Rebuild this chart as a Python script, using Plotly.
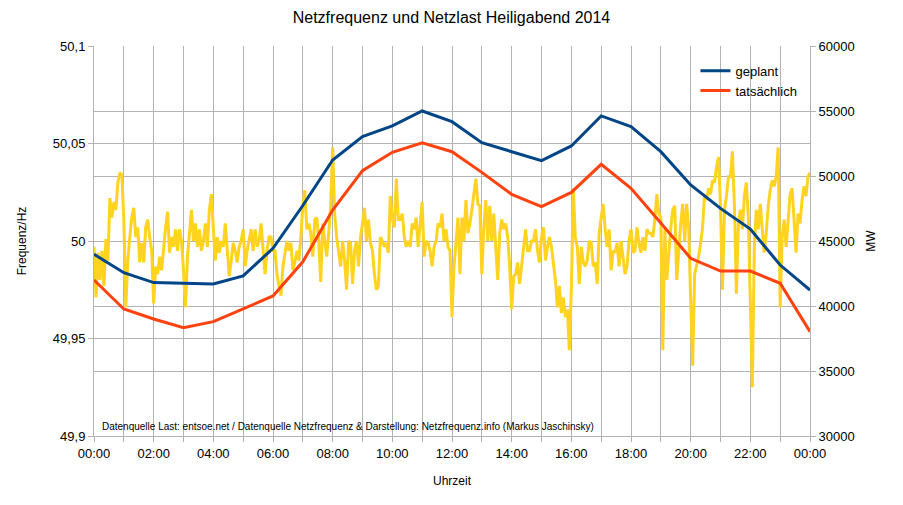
import plotly.graph_objects as go

# ---------------- data ----------------
hours = list(range(0, 25))  # 00:00 .. 24:00 (next 00:00)

geplant_mw = [43980, 42560, 41800, 41750, 41700, 42310, 44440, 47730, 51230, 53030,
              53850, 55000, 54180, 52560, 51870, 51180, 52310, 54620, 53800, 51870,
              49310, 47510, 45920, 43150, 41230]

tatsaechlich_mw = [42000, 39770, 39000, 38330, 38800, 39770, 40770, 43400, 47380, 50410,
                   51820, 52560, 51870, 50280, 48590, 47640, 48740, 50900, 49050, 46380,
                   43670, 42690, 42690, 41750, 38030]

freq_step_min = 4  # frequency samples every 4 minutes, 00:00 .. 24:00
freq_hz = [
    # 00:00 - 04:40
    49.997, 49.971, 49.994, 49.980, 49.995, 49.977, 50.001, 49.990, 50.022, 50.012,
    50.020, 50.016, 50.030, 50.035, 50.034, 50.011, 49.966, 49.990, 50.002, 50.012,
    50.017, 50.002, 50.007, 49.989, 49.999, 49.989, 50.007, 50.011, 50.002, 49.995,
    49.968, 49.987, 49.983, 49.992, 49.985, 49.997, 50.007, 50.015, 49.994, 50.002,
    49.997, 50.006, 49.995, 50.006, 50.000, 49.985, 49.966, 49.992, 50.006, 50.016,
    50.000, 50.009, 49.997, 50.006, 49.995, 50.000, 50.009, 49.997, 50.016, 50.024,
    50.007, 49.990, 50.002, 49.994, 50.000, 49.997, 50.009, 49.995, 49.982, 49.990,
    49.999,
    # 04:44 - 09:28
    49.995, 49.989, 49.997, 50.000, 50.006, 49.987, 49.995, 50.000, 50.006, 49.995,
    50.006, 49.997, 50.000, 50.009, 49.995, 49.983, 49.995, 50.002, 50.002, 49.995,
    49.995, 49.983, 49.977, 49.972, 49.987, 49.994, 50.000, 49.995, 49.999, 49.985,
    49.989, 49.995, 49.990, 50.002, 50.018, 50.026, 50.006, 50.009, 50.004, 49.992,
    50.011, 50.012, 50.000, 49.979, 50.009, 50.000, 49.992, 50.004, 50.018, 50.048,
    50.014, 50.002, 49.994, 49.987, 50.000, 49.990, 49.975, 50.000, 49.999, 49.978,
    49.995, 50.000, 49.987, 50.002, 50.009, 50.017, 50.000, 50.011, 49.999, 49.995,
    49.983, 49.975,
    # 09:32 - 14:12
    49.977, 50.002, 50.000, 49.997, 49.999, 49.994, 50.023, 50.011, 50.007, 50.032,
    50.011, 50.011, 50.014, 50.002, 49.997, 50.000, 49.997, 50.009, 50.006, 50.012,
    49.997, 50.007, 50.020, 49.992, 50.000, 49.999, 49.995, 49.987, 49.997, 50.000,
    50.009, 50.007, 50.014, 50.000, 50.006, 49.997, 49.995, 49.961, 49.987, 49.999,
    50.012, 49.983, 50.012, 50.000, 50.021, 50.004, 50.009, 50.016, 50.023, 50.032,
    50.019, 50.018, 49.983, 50.007, 50.021, 50.000, 50.018, 50.000, 50.014, 49.995,
    49.980, 50.004, 50.011, 50.006, 50.009, 50.002, 49.987, 49.965, 49.982, 49.983,
    49.989,
    # 14:16 - 19:04
    49.978, 49.987, 49.994, 50.006, 49.995, 49.995, 50.000, 50.000, 50.006, 49.995,
    49.989, 50.002, 50.007, 49.990, 49.997, 50.002, 49.997, 49.987, 49.980, 49.966,
    49.977, 49.963, 49.971, 49.961, 49.965, 49.944, 49.975, 50.027, 50.002, 49.997,
    49.978, 49.997, 49.989, 49.987, 49.990, 50.000, 49.999, 49.987, 49.989, 49.978,
    50.004, 50.012, 50.019, 50.006, 49.997, 50.006, 49.985, 49.995, 49.994, 49.999,
    49.987, 50.000, 49.992, 49.983, 49.987, 50.000, 50.006, 49.994, 49.995, 50.007,
    49.999, 49.994, 50.002, 49.995, 50.006, 50.004, 50.004, 50.002, 50.011, 50.024,
    50.014, 50.012, 49.944,
    # 19:08 - 24:00
    50.006, 49.980, 49.994, 50.007, 50.016, 50.018, 49.980, 49.995, 50.009, 50.019,
    50.000, 50.019, 50.007, 49.970, 49.936, 49.983, 49.987, 49.992, 49.999, 50.007,
    50.024, 50.021, 50.027, 50.024, 50.031, 50.030, 50.038, 50.043, 50.018, 49.975,
    50.016, 50.023, 50.033, 50.033, 50.046, 50.018, 49.973, 50.009, 50.016, 50.006,
    50.023, 50.030, 50.012, 49.975, 49.925, 49.997, 50.016, 50.006, 50.019, 50.006,
    49.994, 50.004, 50.018, 50.026, 50.031, 50.028, 50.033, 50.048, 49.966, 50.002,
    50.011, 49.997, 50.012, 50.024, 50.027, 50.012, 49.994, 50.014, 50.009, 50.021,
    50.028, 50.023, 50.033, 50.035,
]
freq_hours = [i * freq_step_min / 60 for i in range(len(freq_hz))]

x_tick_hours = list(range(0, 25))
x_tick_labels = ["00:00", "", "02:00", "", "04:00", "", "06:00", "", "08:00", "", "10:00", "",
                 "12:00", "", "14:00", "", "16:00", "", "18:00", "", "20:00", "", "22:00", "", "00:00"]
hz_ticks = [49.9, 49.95, 50.0, 50.05, 50.1]
hz_tick_labels = ["49,9", "49,95", "50", "50,05", "50,1"]
mw_ticks = [30000, 35000, 40000, 45000, 50000, 55000, 60000]
mw_tick_labels = ["30000", "35000", "40000", "45000", "50000", "55000", "60000"]

# ---------------- figure ----------------
FONT = "Liberation Sans, Arial, sans-serif"
GRID = "#b3b3b3"

fig = go.Figure()
fig.add_trace(go.Scatter(x=freq_hours, y=freq_hz, mode="lines", name="Netzfrequenz",
                         line=dict(color="#ffd320", width=3), showlegend=False, yaxis="y"))
fig.add_trace(go.Scatter(x=hours, y=geplant_mw, mode="lines", name="geplant",
                         line=dict(color="#004586", width=3), yaxis="y2"))
fig.add_trace(go.Scatter(x=hours, y=tatsaechlich_mw, mode="lines", name="tatsächlich",
                         line=dict(color="#ff420e", width=3), yaxis="y2"))

fig.update_layout(
    width=903, height=505,
    margin=dict(l=94, r=93, t=46, b=69),
    paper_bgcolor="white", plot_bgcolor="white",
    font=dict(family=FONT, size=13, color="black"),
    title=dict(text="Netzfrequenz und Netzlast Heiligabend 2014", x=0.5, xanchor="center",
               y=0.965, yanchor="middle", font=dict(size=16)),
    xaxis=dict(range=[0, 24], tickmode="array", tickvals=x_tick_hours, ticktext=x_tick_labels,
               showgrid=True, gridcolor=GRID, gridwidth=1, zeroline=False,
               showline=True, linecolor=GRID, linewidth=1,
               ticks="outside", ticklen=5, tickcolor=GRID,
               title=dict(text="Uhrzeit", font=dict(size=12), standoff=17)),
    yaxis=dict(range=[49.9, 50.1], tickmode="array", tickvals=hz_ticks, ticktext=hz_tick_labels,
               showgrid=True, gridcolor=GRID, gridwidth=1, zeroline=False,
               showline=True, linecolor=GRID, ticks="outside", ticklen=5, tickcolor=GRID,
               title=dict(text="Frequenz/Hz", font=dict(size=12), standoff=23)),
    yaxis2=dict(range=[30000, 60000], tickmode="array", tickvals=mw_ticks, ticktext=mw_tick_labels,
                overlaying="y", side="right",
                showgrid=True, gridcolor=GRID, gridwidth=1, zeroline=False,
                showline=True, linecolor=GRID, ticks="outside", ticklen=5, tickcolor=GRID,
                title=dict(text="MW", font=dict(size=12), standoff=12)),
    legend=dict(x=0.84, y=0.975, xanchor="left", yanchor="top", bgcolor="rgba(0,0,0,0)",
                font=dict(size=13), tracegroupgap=0),
    annotations=[dict(text="Datenquelle Last: entsoe.net / Datenquelle Netzfrequenz & Darstellung: "
                           "Netzfrequenz.info (Markus Jaschinsky)",
                      xref="paper", yref="paper", x=0.009, y=0.005, xanchor="left", yanchor="bottom",
                      showarrow=False, font=dict(size=10))],
)

fig.write_html("out.html", config={"displayModeBar": False},
               post_script="document.body.style.margin='0';")
